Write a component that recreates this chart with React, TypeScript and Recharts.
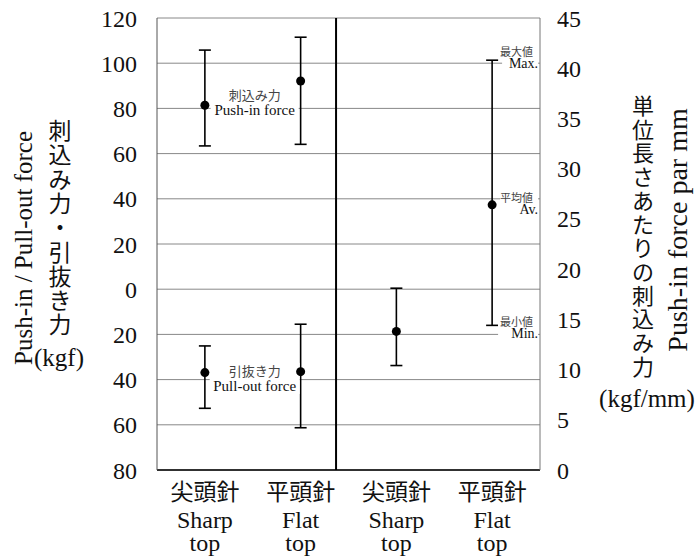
import React from 'react';
import {
  ComposedChart,
  Scatter,
  ErrorBar,
  XAxis,
  YAxis,
  CartesianGrid,
  ReferenceLine,
  ReferenceDot,
} from 'recharts';

const SERIF = 'Liberation Serif, Times New Roman, serif';
const CJK = 'Noto Sans CJK JP, sans-serif';

// needle types, left two = force (kgf), right two = force per mm
const needleJa = ['尖頭針', '平頭針', '尖頭針', '平頭針'];
const needleEn = ['Sharp', 'Flat', 'Sharp', 'Flat'];
const needleEn2 = ['top', 'top', 'top', 'top'];
const needleX = [0.5, 1.5, 2.5, 3.5];

// push-in force (kgf)
const pushInMean = [81.4, 92.1];
const pushInMax = [105.8, 111.5];
const pushInMin = [63.4, 64.1];

// pull-out force (kgf), drawn downward from 0
const pullOutMean = [36.9, 36.5];
const pullOutMax = [52.7, 61.3];
const pullOutMin = [25.1, 15.5];

// push-in force per mm (kgf/mm)
const perMmMean = [13.8, 26.4];
const perMmMax = [18.1, 40.8];
const perMmMin = [10.4, 14.4];

const leftTicks = [-80, -60, -40, -20, 0, 20, 40, 60, 80, 100, 120];
const rightTicks = [0, 5, 10, 15, 20, 25, 30, 35, 40, 45];

const pushInData = pushInMean.map((m, i) => ({
  x: needleX[i],
  y: m,
  err: [m - pushInMin[i], pushInMax[i] - m],
}));

const pullOutData = pullOutMean.map((m, i) => ({
  x: needleX[i],
  y: -m,
  err: [pullOutMax[i] - m, m - pullOutMin[i]],
}));

const perMmData = perMmMean.map((m, i) => ({
  x: needleX[i + 2],
  y: m,
  err: [m - perMmMin[i], perMmMax[i] - m],
}));

const Dot = (p: any) => <circle cx={p.cx} cy={p.cy} r={4.5} fill="#000" />;

const NeedleTick = ({ x, y, payload }: any) => {
  const i = needleX.indexOf(payload.value);
  return (
    <g>
      <text x={x} y={y + 22} textAnchor="middle" fontFamily={CJK} fontSize={23} fill="#111">
        {needleJa[i]}
      </text>
      <text x={x} y={y + 50} textAnchor="middle" fontFamily={SERIF} fontSize={24} fill="#111">
        {needleEn[i]}
      </text>
      <text x={x} y={y + 73} textAnchor="middle" fontFamily={SERIF} fontSize={24} fill="#111">
        {needleEn2[i]}
      </text>
    </g>
  );
};

// two-line note with white backing, centred or right-aligned
const Note = (ja: string, en: string, align: 'middle' | 'end', w: number, big: boolean) => (p: any) => {
  const { cx, cy } = p;
  const left = align === 'middle' ? cx - w / 2 : cx - w;
  return (
    <g>
      <rect x={left} y={cy - (big ? 16 : 13)} width={w} height={big ? 31 : 26} fill="#fff" />
      <text x={align === 'middle' ? cx : cx - 5} y={cy - (big ? 3 : 1)} textAnchor={align} fontFamily={CJK} fontSize={big ? 13 : 11} fill="#444">
        {ja}
      </text>
      <text x={cx} y={cy + (big ? 12 : 11)} textAnchor={align} fontFamily={SERIF} fontSize={big ? 15 : 14} fill="#111">
        {en}
      </text>
    </g>
  );
};

const VText = ({ x, top, step, chars, size }: any) => (
  <text x={x} y={top} textAnchor="middle" fontFamily={CJK} fontSize={size} fill="#111">
    {chars.split('').map((c: string, i: number) => (
      <tspan key={i} x={x} dy={i === 0 ? 0 : step}>
        {c}
      </tspan>
    ))}
  </text>
);

export default function App() {
  return (
    <div style={{ position: 'absolute', left: 0, top: 0, width: 696, height: 556, background: '#fff' }}>
      <ComposedChart
        width={696}
        height={556}
        margin={{ top: 18, right: 96, bottom: 26, left: 100 }}
      >
        <CartesianGrid yAxisId="left" vertical={false} stroke="#888" strokeWidth={1} />
        <XAxis
          type="number"
          dataKey="x"
          domain={[0, 4]}
          ticks={needleX}
          interval={0}
          height={60}
          tickLine={false}
          axisLine={{ stroke: '#000', strokeWidth: 1.5 }}
          tick={<NeedleTick />}
        />
        <YAxis
          yAxisId="left"
          type="number"
          domain={[-80, 120]}
          ticks={leftTicks}
          interval={0}
          width={57}
          tickLine={false}
          tickMargin={14}
          axisLine={{ stroke: '#555' }}
          tickFormatter={(v: number) => String(Math.abs(v))}
          tick={{ fontFamily: SERIF, fontSize: 24, fill: '#111' }}
        />
        <YAxis
          yAxisId="right"
          orientation="right"
          type="number"
          domain={[0, 45]}
          ticks={rightTicks}
          interval={0}
          width={60}
          tickLine={false}
          tickMargin={11}
          axisLine={{ stroke: '#777' }}
          tick={{ fontFamily: SERIF, fontSize: 24, fill: '#111', textAnchor: 'start' }}
        />
        <ReferenceLine yAxisId="left" x={1.87} stroke="#000" strokeWidth={2} />
        <ReferenceDot yAxisId="left" x={1.02} y={82.4} r={0} shape={Note('刺込み力', 'Push-in force', 'middle', 88, true)} />
        <ReferenceDot yAxisId="left" x={1.02} y={-39.7} r={0} shape={Note('引抜き力', 'Pull-out force', 'middle', 90, true)} />
        <ReferenceDot yAxisId="right" x={3.98} y={41.1} r={0} ifOverflow="visible" shape={Note('最大値', 'Max.', 'end', 36, false)} />
        <ReferenceDot yAxisId="right" x={3.98} y={26.6} r={0} ifOverflow="visible" shape={Note('平均値', 'Av.', 'end', 38, false)} />
        <ReferenceDot yAxisId="right" x={3.98} y={14.2} r={0} ifOverflow="visible" shape={Note('最小値', 'Min.', 'end', 40, false)} />
        <Scatter yAxisId="left" data={pushInData} dataKey="y" shape={Dot} isAnimationActive={false}>
          <ErrorBar dataKey="err" direction="y" width={6} stroke="#000" strokeWidth={1.6} isAnimationActive={false} />
        </Scatter>
        <Scatter yAxisId="left" data={pullOutData} dataKey="y" shape={Dot} isAnimationActive={false}>
          <ErrorBar dataKey="err" direction="y" width={6} stroke="#000" strokeWidth={1.6} isAnimationActive={false} />
        </Scatter>
        <Scatter yAxisId="right" data={perMmData} dataKey="y" shape={Dot} isAnimationActive={false}>
          <ErrorBar dataKey="err" direction="y" width={6} stroke="#000" strokeWidth={1.6} isAnimationActive={false} />
        </Scatter>
      </ComposedChart>
      <svg width={696} height={556} style={{ position: 'absolute', left: 0, top: 0, pointerEvents: 'none' }}>
        <text transform="translate(32,248) rotate(-90)" textAnchor="middle" fontFamily={SERIF} fontSize={25} fill="#111">
          Push-in / Pull-out force
        </text>
        <VText x={60} top={139} step={24.3} chars="刺込み力・引抜き力" size={23} />
        <text x={59} y={366} textAnchor="middle" fontFamily={SERIF} fontSize={25} fill="#111">
          (kgf)
        </text>
        <VText x={643} top={114} step={23.7} chars="単位長さあたりの刺込み力" size={22} />
        <text transform="translate(687,230) rotate(-90)" textAnchor="middle" fontFamily={SERIF} fontSize={28} fill="#111">
          Push-in force par mm
        </text>
        <text x={647} y={407} textAnchor="middle" fontFamily={SERIF} fontSize={25} fill="#111">
          (kgf/mm)
        </text>
      </svg>
    </div>
  );
}
